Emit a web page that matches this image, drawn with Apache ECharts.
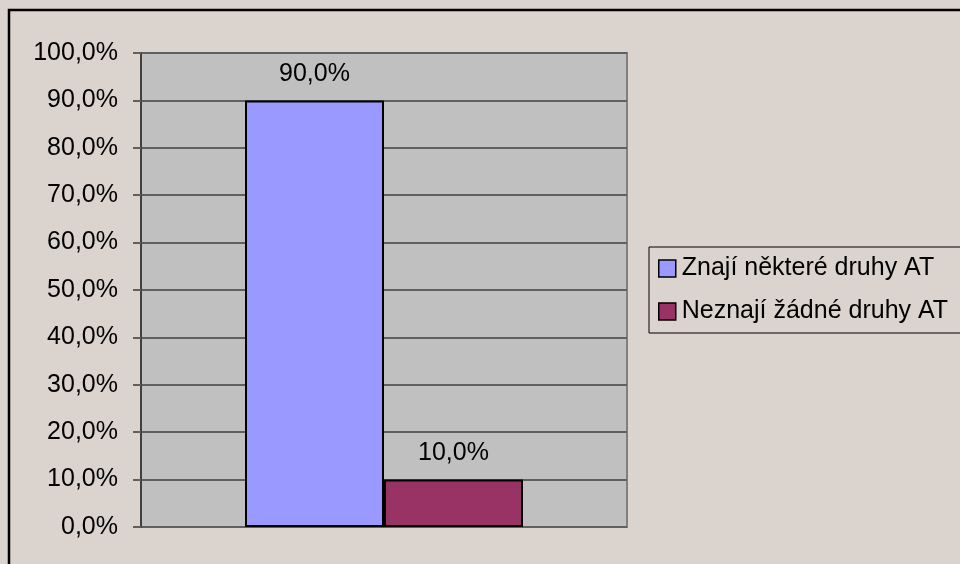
<!DOCTYPE html>
<html>
<head>
<meta charset="utf-8">
<script src="https://cdn.jsdelivr.net/npm/echarts@6/dist/echarts.min.js"></script>
<style>
  html, body { margin: 0; padding: 0; background: #dad3ce; }
  #chart { width: 960px; height: 564px; }
</style>
</head>
<body>
<div id="chart"></div>
<script>
// data
const categories = [''];
const seriesNames = ['Znají některé druhy AT', 'Neznají žádné druhy AT'];
const knowSome = [0.9];
const knowNone = [0.1];
const barColors = ['#9999ff', '#993366'];

const fmtPct = function (v) {
  return (v * 100).toFixed(1).replace('.', ',') + '%';
};

const font = 'Liberation Sans, Arial, sans-serif';
let chart = echarts.init(document.getElementById('chart'));

chart.setOption({
  backgroundColor: '#dad3ce',
  animation: false,
  graphic: [
    {
      type: 'rect',
      shape: { x: 9, y: 10, width: 1000, height: 600 },
      style: { fill: 'none', stroke: '#000', lineWidth: 2.5 },
      silent: true
    }
  ],
  legend: {
    orient: 'vertical',
    left: 649,
    top: 247,
    padding: [9, 40, 9, 9],
    borderColor: '#000',
    borderWidth: 1,
    itemGap: 18,
    itemWidth: 17,
    itemHeight: 17,
    icon: 'rect',
    selectedMode: false,
    itemStyle: { borderColor: '#000', borderWidth: 1.5 },
    textStyle: { fontFamily: font, fontSize: 25, color: '#000', padding: [0, 0, 0, 1] },
    data: seriesNames
  },
  grid: {
    left: 141,
    top: 53,
    width: 486,
    height: 474,
    show: true,
    backgroundColor: '#c0c0c0',
    borderColor: '#808080',
    borderWidth: 2
  },
  xAxis: {
    type: 'category',
    data: categories,
    axisLine: { show: false },
    axisTick: { show: false },
    axisLabel: { show: false }
  },
  yAxis: {
    type: 'value',
    min: 0,
    max: 1,
    interval: 0.1,
    axisLine: { show: true, lineStyle: { color: '#404040', width: 2 } },
    axisTick: { show: true, length: 8, lineStyle: { color: '#606060', width: 2 } },
    splitLine: { show: true, lineStyle: { color: '#606060', width: 2 } },
    axisLabel: {
      margin: 23,
      fontFamily: font,
      fontSize: 25,
      color: '#000',
      formatter: fmtPct
    }
  },
  series: [
    {
      name: seriesNames[0],
      type: 'bar',
      data: knowSome,
      barGap: '0%',
      barCategoryGap: '42.8%',
      itemStyle: { color: barColors[0], borderColor: '#000', borderWidth: 2 },
      label: {
        show: true,
        position: 'top',
        distance: 14,
        fontFamily: font,
        fontSize: 25,
        color: '#000',
        formatter: function (p) { return fmtPct(p.value); }
      }
    },
    {
      name: seriesNames[1],
      type: 'bar',
      data: knowNone,
      barGap: '0%',
      barCategoryGap: '42.8%',
      itemStyle: { color: barColors[1], borderColor: '#000', borderWidth: 2 },
      label: {
        show: true,
        position: 'top',
        distance: 14,
        fontFamily: font,
        fontSize: 25,
        color: '#000',
        formatter: function (p) { return fmtPct(p.value); }
      }
    }
  ]
});
</script>
</body>
</html>
